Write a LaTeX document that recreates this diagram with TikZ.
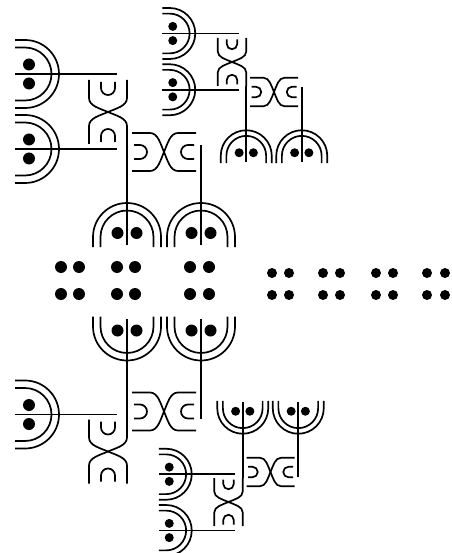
\documentclass[tikz,border=0pt]{standalone}
\begin{document}
\begin{tikzpicture}[
		x=1pt, y=1pt,
		line width=1.7pt,
		dee/.pic={
			\draw (-10,34) -- (0,34) arc[start angle=90, end angle=-90, radius=34] -- (-10,-34);
			\draw (-10,26.5) -- (0,26.5) arc[start angle=90, end angle=-90, radius=26.5] -- (-10,-26.5);
			\fill (4,9.5) circle[radius=6] (4,-9.5) circle[radius=6];
		},
		bone/.pic={
			\draw (-19,32) -- (-19,14) .. controls (-19,6) and (-8,3.5) .. (0,0) .. controls (8,3.5) and (19,6) .. (19,14) -- (19,32);
			\draw (-19,-32) -- (-19,-14) .. controls (-19,-6) and (-8,-3.5) .. (0,0) .. controls (8,-3.5) and (19,-6) .. (19,-14) -- (19,-32);
			\draw (-7,30) -- (-7,24) arc[start angle=180, end angle=360, radius=7] -- (7,30);
			\draw (-7,-30) -- (-7,-24) arc[start angle=180, end angle=0, radius=7] -- (7,-30);
		},
		twig/.pic={
			\pic[transform shape] at (-83,38) {dee};
			\draw (-93,38) -- (9,38);
		},
		branch/.pic={
			\pic[transform shape] {bone};
			\pic[transform shape] at (-83,-37) {dee};
			\draw (-93,-37) -- (9,-37);
			\pic[transform shape, rotate=90] at (56,-40) {bone};
			\pic[transform shape, rotate=90] at (19,-125) {dee};
			\pic[transform shape, rotate=90] at (93,-125) {dee};
			\draw (19,-32) -- (19,-133);
			\draw (93,-33) -- (93,-133);
		}
	]
		\useasboundingbox (0,0) rectangle (451,-553);
		
		% Upper left, large
		\pic at (108,-112) {branch};
		\pic at (108,-112) {twig};
		
		% Upper right, small
		\pic[scale=0.75] at (232,-62) {branch};
		\pic[scale=0.75] at (232,-62) {twig};
		
		% Braille line
		\foreach \x in {61,79,117,135,190,209}
			\fill (\x,-267) circle[radius=6] (\x,-294) circle[radius=6];
		\foreach \x in {272,289,323,340,376,393,427,445}
			\fill (\x,-273) circle[radius=5] (\x,-295) circle[radius=5];
		
		% Lower left, large (mirrored)
		\pic[yscale=-1] at (108,-451.5) {branch};
		
		% Lower right, small (mirrored)
		\pic[scale=0.75, yscale=-1] at (228.5,-502) {branch};
		\pic[scale=0.75, yscale=-1] at (228.5,-502) {twig};
	\end{tikzpicture}
\end{document}
